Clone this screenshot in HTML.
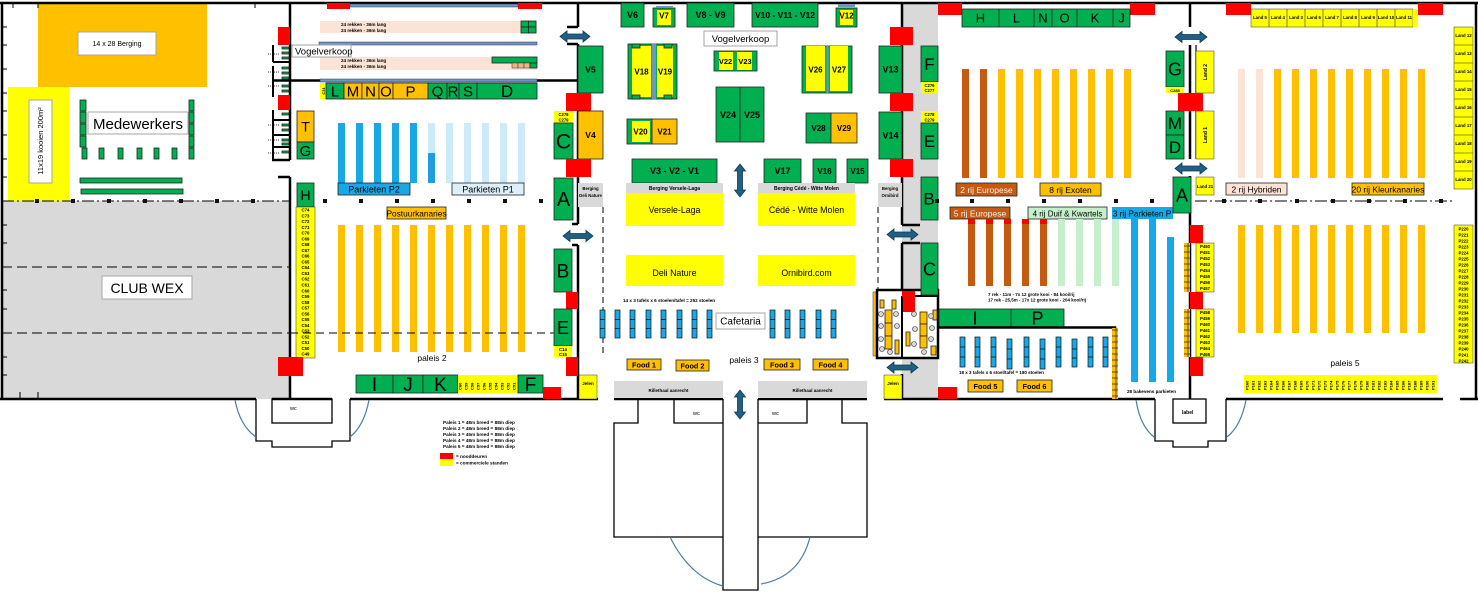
<!DOCTYPE html>
<html><head><meta charset="utf-8">
<style>
html,body{margin:0;padding:0;background:#fff;}
svg{display:block}
text{font-family:"Liberation Sans",Arial,sans-serif;fill:#000}
.g{fill:#00b050;stroke:#222;stroke-width:.8}
.o{fill:#ffc000;stroke:#222;stroke-width:.8}
.yb{fill:#ffff00;stroke:#333;stroke-width:.5}
.r{fill:#ff0000}
.gr{fill:#d9d9d9}
.w{stroke:#000;stroke-width:2.5;fill:none}
.wt{stroke:#000;stroke-width:1.3;fill:none}
.ar{fill:#215f83;stroke:#0d3b57;stroke-width:.8}
.lbl{fill:#fff;stroke:#a6a6a6;stroke-width:1}
.bo{fill:#ffc000}
.bb{fill:#18a8e6}
.lb{fill:#cdeaf8}
.br{fill:#c55a11}
.lg{fill:#c6efce}
.pk{fill:#fbe3d6}
.m{text-anchor:middle}
.b{font-weight:bold}
.tb{fill:#18a8e6;stroke:#111;stroke-width:.7}
.arc{fill:none;stroke:#4a7fa0;stroke-width:1.2}
</style></head><body>
<svg width="1478" height="592" viewBox="0 0 1478 592" xmlns="http://www.w3.org/2000/svg">
<defs>
<pattern id="comb" width="6" height="6" patternUnits="userSpaceOnUse"><rect width="6" height="6" fill="#ffc000" stroke="#333" stroke-width=".8"/></pattern>
</defs>

<!-- backgrounds -->
<rect class="gr" x="2" y="201" width="288" height="198"/>
<rect class="gr" x="902" y="3" width="36" height="396"/>

<!-- ===== LEFT AREA ===== -->
<rect x="38" y="3" width="169" height="84" fill="#ffc000"/>
<rect class="lbl" x="78" y="32" width="78" height="23"/>
<text x="117" y="46" font-size="7" class="m">14 x 28 Berging</text>
<rect x="8" y="87" width="61" height="114" fill="#ffff00"/>
<rect class="lbl" x="29" y="100" width="23" height="83"/>
<text transform="translate(43,141) rotate(-90)" font-size="7.5" class="m">11x19 kooien 200m²</text>
<rect class="lbl" x="88" y="112" width="100" height="22"/>
<text x="138" y="129" font-size="15" class="m">Medewerkers</text>
<g class="g">
<rect x="80" y="100" width="6" height="11"/><rect x="80" y="112" width="6" height="11"/><rect x="80" y="124" width="6" height="11"/><rect x="80" y="136" width="6" height="11"/>
<rect x="189" y="100" width="5" height="11"/><rect x="189" y="112" width="5" height="11"/><rect x="189" y="124" width="5" height="11"/><rect x="189" y="136" width="5" height="11"/><rect x="189" y="148" width="5" height="11"/>
<rect x="82" y="148" width="5" height="11"/><rect x="99" y="148" width="5" height="11"/><rect x="118" y="148" width="5" height="11"/><rect x="137" y="148" width="5" height="11"/><rect x="154" y="148" width="5" height="11"/><rect x="172" y="148" width="5" height="11"/>
<rect x="80" y="178" width="102" height="5"/><rect x="81" y="189" width="102" height="5"/>
</g>
<path d="M2,201H290" stroke="#000" stroke-width="1" stroke-dasharray="12,3,2,3"/>
<path d="M2,267H290M2,333H290" stroke="#000" stroke-width="1" stroke-dasharray="10,5"/>
<g fill="#111">
<rect x="35" y="199" width="4" height="4"/><rect x="71" y="199" width="4" height="4"/><rect x="107" y="199" width="4" height="4"/><rect x="143" y="199" width="4" height="4"/><rect x="179" y="199" width="4" height="4"/><rect x="215" y="199" width="4" height="4"/><rect x="251" y="199" width="4" height="4"/>
</g>
<rect class="lbl" x="102" y="276" width="90" height="23"/>
<text x="147" y="293" font-size="14" class="m">CLUB WEX</text>
<path d="M2,27H7M2,45H7M2,69H7M2,93H7M2,111H7M2,135H7M2,159H7M2,177H7M2,225H7M2,243H7M2,290H7M2,309H7M2,357H7M2,375H7M13,3V8M38,3V8M255,3V8M20,392V399M38,392V399" stroke="#000" stroke-width="1"/>

<!-- ===== WALLS ===== -->
<path class="w" d="M0,3H1478"/>
<path class="w" d="M2,3V399"/>
<path class="w" d="M1476,3V399"/>
<path class="w" d="M0,399H256M272,399H332M350,399H598M614,399H723M758,399H867M884,399H1155M1226,399H1443M1460,399H1478"/>
<path class="w" d="M290,3V160M272,160H290M278,177H290M290,177V399"/>
<path class="w" d="M272,80.5H578"/>
<path class="w" d="M578,3V27M567,27H578M567,44H578M578,44V224M572,224H578M572,245H578M578,245V399"/>
<path class="w" d="M902,3V225M902,225H920M902,243H920M902,243V290M902,374V399"/>
<path class="w" d="M1190,3V27M1190,45V159M1190,176V399"/>
<path d="M1196,45V159" stroke="#000" stroke-width="1.2"/>
<!-- comb structure -->
<path d="M273,45V62M273,66V97M273,62H290M273,110V160M273,120H290M273,135H290M273,147H290" stroke="#000" stroke-width="2"/>
<path d="M268,54H280M268,72H280M268,86H280M268,125H280M268,140H280M268,153H280" stroke="#000" stroke-width=".8" stroke-dasharray="1,1"/>
<g class="g">
<rect x="282" y="47" width="7" height="2"/><rect x="282" y="52" width="7" height="2"/><rect x="282" y="57" width="7" height="2"/><rect x="282" y="67" width="7" height="2"/><rect x="282" y="72" width="7" height="2"/><rect x="282" y="77" width="7" height="2"/><rect x="282" y="85" width="7" height="2"/><rect x="282" y="90" width="7" height="2"/>
<rect x="282" y="113" width="7" height="2"/><rect x="282" y="124" width="7" height="2"/><rect x="282" y="129" width="7" height="2"/><rect x="282" y="139" width="7" height="2"/><rect x="282" y="143" width="7" height="2"/><rect x="282" y="151" width="7" height="2"/>
</g>

<!-- ===== PALAIS 2 ===== -->
<rect class="r" x="327" y="3" width="23" height="6"/><rect class="r" x="518" y="3" width="24" height="6"/>
<rect x="350" y="4" width="168" height="3" fill="#6f95c6" stroke="#334" stroke-width=".5"/>
<rect class="pk" x="320" y="21" width="217" height="12"/>
<text x="341" y="26" font-size="4.6" class="b">24 rekken - 36m lang</text>
<text x="341" y="32" font-size="4.6" class="b">24 rekken - 36m lang</text>
<g class="g"><rect x="521" y="21" width="7.5" height="6"/><rect x="528.5" y="21" width="7.5" height="6"/><rect x="521" y="27" width="7.5" height="6"/><rect x="528.5" y="27" width="7.5" height="6"/></g>
<rect x="319" y="42" width="218" height="3" fill="#6f95c6" stroke="#334" stroke-width=".5"/>
<rect class="pk" x="320" y="57" width="217" height="13"/>
<text x="341" y="62" font-size="4.6" class="b">24 rekken - 36m lang</text>
<text x="341" y="68" font-size="4.6" class="b">24 rekken - 36m lang</text>
<rect class="g" x="492" y="57" width="45" height="6"/>
<rect x="512" y="63" width="6" height="5" fill="#f4b183" stroke="#333" stroke-width=".5"/><rect x="518" y="63" width="6" height="5" fill="#f4b183" stroke="#333" stroke-width=".5"/><rect x="524" y="63" width="6" height="5" fill="#f4b183" stroke="#333" stroke-width=".5"/><rect class="g" x="530" y="63" width="7" height="5"/>
<rect class="lbl" x="292" y="45" width="59" height="12"/>
<text x="295" y="54.5" font-size="9.5">Vogelverkoop</text>
<rect x="320" y="79" width="217" height="3" fill="#6f95c6" stroke="#334" stroke-width=".5"/>
<rect x="320" y="83" width="6" height="16" fill="#ffff00"/>
<text transform="translate(325,91) rotate(-90)" font-size="4" class="m b">C31</text>
<rect class="g" x="326" y="83" width="18" height="16"/><rect class="o" x="344" y="83" width="18" height="16"/><rect class="o" x="362" y="83" width="17" height="16"/><rect class="o" x="379" y="83" width="14" height="16"/><rect class="o" x="393" y="83" width="35" height="16"/><rect class="g" x="428" y="83" width="19" height="16"/><rect class="g" x="447" y="83" width="12" height="16"/><rect class="g" x="459" y="83" width="18" height="16"/><rect class="g" x="477" y="83" width="60" height="16"/>
<g font-size="15" class="m"><text x="335" y="96.5">L</text><text x="353" y="96.5">M</text><text x="370.5" y="96.5">N</text><text x="386" y="96.5">O</text><text x="410.5" y="96.5">P</text><text x="437.5" y="96.5">Q</text><text x="453" y="96.5">R</text><text x="468" y="96.5">S</text></g>
<text x="507" y="97" font-size="17" class="m">D</text>

<rect class="o" x="297" y="111" width="17" height="31"/><rect class="g" x="297" y="142" width="17" height="17"/>
<text x="305.5" y="131.5" font-size="14" class="m">T</text><text x="305.5" y="155.9" font-size="15" class="m">G</text>
<rect class="g" x="297" y="183" width="17" height="24"/><text x="305.5" y="200" font-size="14" class="m">H</text>
<rect class="yb" x="296" y="207" width="19" height="151"/>
<text font-size="4.3" class="m b"><tspan x="305.5" y="211.5">C74</tspan><tspan x="305.5" dy="5.77">C73</tspan><tspan x="305.5" dy="5.77">C72</tspan><tspan x="305.5" dy="5.77">C71</tspan><tspan x="305.5" dy="5.77">C70</tspan><tspan x="305.5" dy="5.77">C69</tspan><tspan x="305.5" dy="5.77">C68</tspan><tspan x="305.5" dy="5.77">C67</tspan><tspan x="305.5" dy="5.77">C66</tspan><tspan x="305.5" dy="5.77">C65</tspan><tspan x="305.5" dy="5.77">C64</tspan><tspan x="305.5" dy="5.77">C63</tspan><tspan x="305.5" dy="5.77">C62</tspan><tspan x="305.5" dy="5.77">C61</tspan><tspan x="305.5" dy="5.77">C60</tspan><tspan x="305.5" dy="5.77">C59</tspan><tspan x="305.5" dy="5.77">C58</tspan><tspan x="305.5" dy="5.77">C57</tspan><tspan x="305.5" dy="5.77">C56</tspan><tspan x="305.5" dy="5.77">C55</tspan><tspan x="305.5" dy="5.77">C54</tspan><tspan x="305.5" dy="5.77">C53</tspan><tspan x="305.5" dy="5.77">C52</tspan><tspan x="305.5" dy="5.77">C51</tspan><tspan x="305.5" dy="5.77">C50</tspan><tspan x="305.5" dy="5.77">C49</tspan></text>
<rect class="r" x="278" y="357" width="25" height="19"/>
<rect class="r" x="278" y="27" width="12" height="18"/><rect class="r" x="278" y="95" width="12" height="15"/>

<!-- parkieten bars -->
<g class="bb"><rect x="338" y="123" width="7" height="60"/><rect x="356" y="123" width="7" height="60"/><rect x="374" y="123" width="7" height="60"/><rect x="392" y="123" width="7" height="60"/><rect x="410" y="123" width="7" height="60"/></g>
<g class="lb"><rect x="428" y="123" width="7" height="30"/><rect x="446" y="123" width="7" height="60"/><rect x="464" y="123" width="7" height="60"/><rect x="482" y="123" width="7" height="60"/><rect x="500" y="123" width="7" height="60"/><rect x="518" y="123" width="7" height="60"/></g>
<rect x="428" y="153" width="7" height="30" fill="#1e9ee0"/>
<rect x="338" y="183" width="72" height="12" fill="#18a8e6" stroke="#222" stroke-width=".8"/>
<text x="374" y="192.5" font-size="9" class="m">Parkieten P2</text>
<rect x="452" y="183" width="72" height="12" fill="#ddf0fa" stroke="#222" stroke-width=".8"/>
<text x="488" y="192.5" font-size="9" class="m">Parkieten P1</text>
<g fill="#111"><rect x="323" y="199" width="4" height="4"/><rect x="359" y="199" width="4" height="4"/><rect x="395" y="199" width="4" height="4"/><rect x="431" y="199" width="4" height="4"/><rect x="467" y="199" width="4" height="4"/><rect x="503" y="199" width="4" height="4"/><rect x="539" y="199" width="4" height="4"/></g>
<rect class="o" x="387" y="207" width="59" height="12"/>
<text x="416.5" y="216.3" font-size="8.3" class="m">Postuurkanaries</text>
<g class="bo"><rect x="338" y="225" width="7" height="127"/><rect x="356" y="225" width="7" height="127"/><rect x="374" y="225" width="7" height="127"/><rect x="392" y="225" width="7" height="127"/><rect x="410" y="225" width="7" height="127"/><rect x="428" y="225" width="7" height="127"/><rect x="446" y="225" width="7" height="127"/><rect x="464" y="225" width="7" height="127"/><rect x="482" y="225" width="7" height="127"/><rect x="500" y="225" width="7" height="127"/><rect x="518" y="225" width="7" height="127"/></g>
<path d="M290,333H555" stroke="#000" stroke-width="1" stroke-dasharray="8,5"/>
<text x="432" y="361" font-size="8.5" class="m">paleis 2</text>
<rect class="g" x="356" y="375" width="37" height="18"/><rect class="g" x="393" y="375" width="30" height="18"/><rect class="g" x="423" y="375" width="35" height="18"/>
<rect x="458" y="375" width="60" height="18" fill="#ffff00"/>
<g transform="translate(458,392) rotate(-90)" font-size="4" class="b"><text><tspan x="2" y="3.5">C60</tspan><tspan x="2" y="9.5">C59</tspan><tspan x="2" y="15.5">C58</tspan><tspan x="2" y="21.5">C57</tspan><tspan x="2" y="27.5">C56</tspan><tspan x="2" y="33.5">C55</tspan><tspan x="2" y="39.5">C54</tspan><tspan x="2" y="45.5">C53</tspan><tspan x="2" y="51.5">C52</tspan><tspan x="2" y="57.5">C51</tspan></text></g>
<rect class="g" x="518" y="375" width="25" height="18"/>
<g font-size="19" class="m"><text x="374.5" y="390.8">I</text><text x="408" y="390.8">J</text><text x="440.5" y="390.8">K</text><text x="530.5" y="390.8">F</text></g>
<rect class="r" x="543" y="387" width="18" height="12"/>
<rect class="g" x="554" y="249" width="18" height="43"/><text x="563" y="277.3" font-size="19" class="m">B</text>
<rect class="r" x="566" y="292" width="12" height="17"/>
<rect class="g" x="554" y="309" width="18" height="37"/><text x="563" y="334" font-size="18" class="m">E</text>
<rect x="554" y="346" width="18" height="11" fill="#ffff00"/>
<text x="563" y="351" font-size="4.3" class="m b">C14</text><text x="563" y="356" font-size="4.3" class="m b">C15</text>
<rect class="r" x="566" y="357" width="12" height="19"/>
<rect class="yb" x="579" y="375" width="18" height="24"/><text x="588" y="385" font-size="4.5" class="m b">Jelen</text>
<rect class="g" x="554" y="178" width="19" height="42"/><text x="563.5" y="206.2" font-size="20" class="m">A</text>
<rect class="g" x="578" y="46" width="25" height="47"/><text x="590.5" y="72.5" font-size="8.5" class="m b">V5</text>
<rect class="r" x="566" y="93" width="25" height="18"/>
<rect x="554" y="111" width="19" height="12" fill="#ffff00"/>
<text x="563.5" y="116" font-size="4.2" class="m b">C278</text><text x="563.5" y="121.5" font-size="4.2" class="m b">C279</text>
<rect class="g" x="554" y="123" width="19" height="36"/><text x="563.5" y="148.5" font-size="21" class="m">C</text>
<rect class="o" x="578" y="111" width="25" height="48"/><text x="590.5" y="138" font-size="8.5" class="m b">V4</text>
<rect class="r" x="566" y="159" width="25" height="18"/>
<rect class="gr" x="578" y="183" width="25" height="24"/>
<text x="590.5" y="190" font-size="4.3" class="m b">Berging</text><text x="590.5" y="197" font-size="4.3" class="m b">Deli Nature</text>

<!-- ===== PALAIS 3 ===== -->
<rect class="g" x="621" y="3" width="23" height="24"/><text x="632.5" y="18.2" font-size="9" class="m b">V6</text>
<rect class="g" x="653" y="8" width="22" height="19"/><rect x="657" y="10" width="14" height="15" fill="#ffff00"/><rect x="656" y="6" width="17" height="2" fill="#6f95c6"/><text x="664" y="18.5" font-size="8" class="m b">V7</text>
<rect class="g" x="687" y="3" width="47" height="24"/><text x="710.5" y="18.2" font-size="9" class="m b">V8 - V9</text>
<rect class="g" x="752" y="3" width="66" height="24"/><text x="785" y="18.2" font-size="8.5" class="m b">V10 - V11 - V12</text>
<rect class="g" x="836" y="8" width="21" height="19"/><rect x="840" y="10" width="13" height="15" fill="#ffff00"/><rect x="838" y="4" width="17" height="3" fill="#6f95c6"/><text x="846.5" y="18.5" font-size="8" class="m b">V12</text>
<rect class="lbl" x="704" y="31" width="73" height="15"/><text x="740.5" y="42" font-size="9.5" class="m">Vogelverkoop</text>
<!-- V18 V19 -->
<rect class="g" x="628" y="44" width="49" height="55"/>
<rect x="632" y="46" width="19" height="51" fill="#ffff00"/><rect x="657" y="46" width="16" height="51" fill="#ffff00"/>
<rect x="652" y="44" width="4" height="55" fill="#6f95c6"/>
<g class="g"><rect x="632" y="44" width="8" height="4"/><rect x="632" y="95" width="8" height="4"/><rect x="664" y="44" width="8" height="4"/><rect x="664" y="95" width="8" height="4"/></g>
<text x="641.5" y="74.5" font-size="8" class="m b">V18</text><text x="665" y="74.5" font-size="8" class="m b">V19</text>
<!-- V22 V23 -->
<rect class="g" x="714" y="51" width="43" height="20"/>
<rect x="719" y="52" width="14" height="18" fill="#ffff00"/><rect x="737" y="52" width="15" height="18" fill="#ffff00"/>
<text x="725.5" y="64" font-size="7.5" class="m b">V22</text><text x="745" y="64" font-size="7.5" class="m b">V23</text>
<!-- V26 V27 -->
<rect class="g" x="802" y="46" width="50" height="47"/>
<rect x="806" y="46" width="19" height="45" fill="#ffff00"/><rect x="830" y="46" width="18" height="45" fill="#ffff00"/>
<path d="M827.5,46V93" stroke="#6f95c6" stroke-width="2"/>
<text x="815.5" y="72.5" font-size="8" class="m b">V26</text><text x="839" y="72.5" font-size="8" class="m b">V27</text>
<rect class="g" x="716" y="87" width="48" height="55"/><path d="M740,87V142" stroke="#222" stroke-width=".8"/>
<text x="728" y="118" font-size="9" class="m b">V24</text><text x="752" y="118" font-size="9" class="m b">V25</text>
<rect class="g" x="627" y="119" width="25" height="25"/><rect x="632" y="121" width="18" height="21" fill="#ffff00"/>
<rect class="o" x="652" y="119" width="25" height="25"/>
<text x="640.5" y="134.5" font-size="8" class="m b">V20</text><text x="664.5" y="134.5" font-size="8" class="m b">V21</text>
<rect class="g" x="806" y="113" width="25" height="30"/><rect class="o" x="831" y="113" width="26" height="30"/>
<text x="818.5" y="131" font-size="8" class="m b">V28</text><text x="844" y="131" font-size="8" class="m b">V29</text>
<rect class="g" x="879" y="46" width="23" height="47"/><text x="890.5" y="72.7" font-size="9" class="m b">V13</text>
<rect class="g" x="879" y="112" width="23" height="47"/><text x="890.5" y="138.7" font-size="9" class="m b">V14</text>
<rect class="r" x="890" y="27" width="23" height="18"/><rect class="r" x="890" y="93" width="23" height="18"/><rect class="r" x="890" y="159" width="23" height="18"/>
<rect class="g" x="632" y="159" width="85" height="24"/><text x="674.5" y="174.2" font-size="9" class="m b">V3 - V2 - V1</text>
<rect class="g" x="764" y="159" width="37" height="24"/><text x="782.5" y="174.2" font-size="9" class="m b">V17</text>
<rect class="g" x="813" y="159" width="23" height="24"/><text x="824.5" y="174.2" font-size="8" class="m b">V16</text>
<rect class="g" x="847" y="159" width="21" height="24"/><text x="857.5" y="174.2" font-size="8" class="m b">V15</text>
<rect class="gr" x="626" y="183" width="97" height="10"/><text x="674.5" y="190" font-size="5" class="m b">Berging Versele-Laga</text>
<rect x="626" y="193" width="97" height="33" fill="#ffff00"/><text x="674.5" y="213" font-size="8.8" class="m">Versele-Laga</text>
<rect class="gr" x="758" y="183" width="97" height="10"/><text x="806.5" y="190" font-size="5" class="m b">Berging Cédé - Witte Molen</text>
<rect x="758" y="193" width="97" height="33" fill="#ffff00"/><text x="806.5" y="213" font-size="8.8" class="m">Cédé - Witte Molen</text>
<rect x="626" y="255" width="97" height="31" fill="#ffff00"/><text x="674.5" y="276" font-size="8.8" class="m">Deli Nature</text>
<rect x="758" y="255" width="97" height="31" fill="#ffff00"/><text x="806.5" y="276" font-size="8.8" class="m">Ornibird.com</text>
<rect class="gr" x="878" y="183" width="24" height="24"/>
<text x="890" y="190" font-size="4.3" class="m b">Berging</text><text x="890" y="197" font-size="4.3" class="m b">Ornibird</text>
<path d="M603,207V355M878,207V355" stroke="#000" stroke-width="1" stroke-dasharray="6,4"/>
<text x="623" y="302" font-size="4.6" class="b">14 x 3 tafels x 6 stoelen/tafel = 252 stoelen</text>
<g class="tb">
<rect x="600" y="310" width="5" height="28"/><rect x="615" y="310" width="5" height="28"/><rect x="630" y="310" width="5" height="28"/><rect x="646" y="310" width="5" height="28"/><rect x="661" y="310" width="5" height="28"/><rect x="677" y="310" width="5" height="28"/><rect x="692" y="310" width="5" height="28"/><rect x="707" y="310" width="5" height="28"/>
<rect x="770" y="310" width="5" height="28"/><rect x="785" y="310" width="5" height="28"/><rect x="800" y="310" width="5" height="28"/><rect x="816" y="310" width="5" height="28"/><rect x="831" y="310" width="5" height="28"/>
</g>
<path d="M600,319.5h5M615,319.5h5M630,319.5h5M646,319.5h5M661,319.5h5M677,319.5h5M692,319.5h5M707,319.5h5M770,319.5h5M785,319.5h5M800,319.5h5M816,319.5h5M831,319.5h5M600,328.5h5M615,328.5h5M630,328.5h5M646,328.5h5M661,328.5h5M677,328.5h5M692,328.5h5M707,328.5h5M770,328.5h5M785,328.5h5M800,328.5h5M816,328.5h5M831,328.5h5" stroke="#111" stroke-width=".7"/>
<rect class="lbl" x="716" y="313" width="49" height="16"/><text x="740.5" y="324.5" font-size="10" class="m">Cafetaria</text>
<text x="744" y="363" font-size="8.5" class="m">paleis 3</text>
<rect class="o" x="627" y="359" width="34" height="11"/><text x="644" y="367.5" font-size="7.3" class="m b">Food 1</text>
<rect class="o" x="676" y="360" width="33" height="11"/><text x="692.5" y="368.5" font-size="7.3" class="m b">Food 2</text>
<rect class="o" x="764" y="359" width="36" height="11"/><text x="782" y="367.5" font-size="7.3" class="m b">Food 3</text>
<rect class="o" x="813" y="359" width="35" height="11"/><text x="830.5" y="367.5" font-size="7.3" class="m b">Food 4</text>
<rect class="gr" x="614" y="381" width="109" height="17"/><text x="668.5" y="392" font-size="4.5" class="m b">Rillethaal aanrecht</text>
<rect class="gr" x="758" y="381" width="109" height="17"/><text x="812.5" y="392" font-size="4.5" class="m b">Rillethaal aanrecht</text>
<rect class="yb" x="884" y="375" width="18" height="24"/><text x="893" y="385" font-size="4.5" class="m b">Jelen</text>
<!-- cafeteria room -->
<rect x="873" y="292" width="4" height="64" fill="#ffc000" stroke="#333" stroke-width=".5"/>
<rect x="877" y="290" width="61" height="68" fill="#fff" stroke="#000" stroke-width="2.5"/>
<path d="M902,296V358M902,296H938" stroke="#000" stroke-width="2"/>
<rect class="r" x="903" y="297" width="12" height="15"/>
<g class="o"><rect x="885" y="310" width="7" height="13"/><rect x="885" y="323" width="7" height="13"/><rect x="885" y="336" width="7" height="13"/><rect x="892" y="300" width="4" height="9"/><rect x="895" y="340" width="4" height="14"/><rect x="920" y="312" width="7" height="12"/><rect x="920" y="324" width="7" height="12"/><rect x="920" y="336" width="7" height="12"/><rect x="906" y="332" width="4" height="14"/><rect x="931" y="346" width="5" height="9"/><rect x="933" y="310" width="4" height="10"/><rect x="880" y="300" width="4" height="8"/></g>
<g fill="#d8d8d8" stroke="#333" stroke-width=".6"><circle cx="881" cy="314" r="2.5"/><circle cx="881" cy="326" r="2.5"/><circle cx="881" cy="339" r="2.5"/><circle cx="882" cy="349" r="2.5"/><circle cx="896" cy="314" r="2.5"/><circle cx="897" cy="326" r="2.5"/><circle cx="890" cy="352" r="2.5"/><circle cx="914" cy="314" r="2.5"/><circle cx="915" cy="329" r="2.5"/><circle cx="914" cy="344" r="2.5"/><circle cx="931" cy="316" r="2.5"/><circle cx="932" cy="328" r="2.5"/><circle cx="931" cy="339" r="2.5"/><circle cx="924" cy="352" r="2.5"/></g>

<!-- ===== PALAIS 4 ===== -->
<rect class="r" x="938" y="3" width="24" height="12"/><rect class="r" x="1130" y="3" width="25" height="12"/>
<rect class="g" x="962" y="9" width="168" height="18"/>
<path d="M999,9V27M1034,9V27M1052,9V27M1077,9V27M1113,9V27" stroke="#222" stroke-width=".8"/>
<g font-size="13" class="m"><text x="980.5" y="22.7">H</text><text x="1016.5" y="22.7">L</text><text x="1043" y="22.7">N</text><text x="1064.5" y="22.7">O</text><text x="1095" y="22.7">K</text><text x="1121.5" y="22.7">J</text></g>
<rect class="g" x="921" y="46" width="17" height="36"/><text x="929.5" y="70" font-size="17" class="m">F</text>
<rect x="921" y="82" width="17" height="11" fill="#ffff00"/><text x="929.5" y="87" font-size="4.2" class="m b">C276</text><text x="929.5" y="92" font-size="4.2" class="m b">C277</text>
<rect x="921" y="111" width="17" height="12" fill="#ffff00"/><text x="929.5" y="116" font-size="4.2" class="m b">C278</text><text x="929.5" y="121.5" font-size="4.2" class="m b">C279</text>
<rect class="g" x="921" y="123" width="17" height="36"/><text x="929.5" y="147" font-size="17" class="m">E</text>
<rect class="g" x="921" y="177" width="17" height="43"/><text x="929" y="204.6" font-size="17" class="m">B</text>
<rect class="g" x="921" y="243" width="17" height="52"/><text x="929.5" y="275.5" font-size="18" class="m">C</text>
<rect class="r" x="902" y="291" width="13" height="6"/>
<g class="br"><rect x="962" y="69" width="7" height="109"/><rect x="980" y="69" width="7" height="109"/></g>
<g class="bo"><rect x="998" y="69" width="7" height="109"/><rect x="1016" y="69" width="7" height="109"/><rect x="1034" y="69" width="7" height="109"/><rect x="1052" y="69" width="7" height="109"/><rect x="1070" y="69" width="7" height="109"/><rect x="1088" y="69" width="7" height="109"/><rect x="1106" y="69" width="7" height="109"/><rect x="1124" y="69" width="7" height="109"/></g>
<rect x="956" y="183" width="61" height="13" fill="#c55a11" stroke="#222" stroke-width=".8"/><text x="986.5" y="192.8" font-size="8.5" class="m" style="fill:#f4f4f4">2 rij Europese</text>
<rect class="o" x="1040" y="183" width="61" height="13"/><text x="1070.5" y="192.8" font-size="8.5" class="m">8 rij Exoten</text>
<g fill="#111"><rect x="935" y="199" width="4" height="4"/><rect x="970" y="199" width="4" height="4"/><rect x="1006" y="199" width="4" height="4"/><rect x="1042" y="199" width="4" height="4"/><rect x="1078" y="199" width="4" height="4"/><rect x="1114" y="199" width="4" height="4"/><rect x="1150" y="199" width="4" height="4"/></g>
<rect x="950" y="207" width="60" height="12" fill="#c55a11" stroke="#222" stroke-width=".8"/><text x="980" y="216.3" font-size="8.5" class="m" style="fill:#f4f4f4">5 rij Europese</text>
<rect x="1028" y="207" width="79" height="12" fill="#c6efce" stroke="#222" stroke-width=".8"/><text x="1067.5" y="216.3" font-size="8" class="m">4 rij Duif &amp; Kwartels</text>
<rect x="1112" y="207" width="61" height="12" fill="#18a8e6"/><text x="1142" y="216.3" font-size="8.3" class="m">3 rij Parkieten P</text>
<g class="br"><rect x="968" y="219" width="7" height="67"/><rect x="986" y="219" width="7" height="67"/><rect x="1004" y="219" width="7" height="67"/><rect x="1022" y="219" width="7" height="67"/><rect x="1040" y="219" width="7" height="67"/></g>
<g class="r"><rect x="968" y="219" width="7" height="5"/><rect x="986" y="219" width="7" height="5"/><rect x="1004" y="219" width="7" height="5"/><rect x="1022" y="219" width="7" height="5"/><rect x="1040" y="219" width="7" height="5"/></g>
<g class="lg"><rect x="1058" y="219" width="7" height="67"/><rect x="1076" y="219" width="7" height="67"/><rect x="1094" y="219" width="7" height="67"/><rect x="1112" y="219" width="7" height="67"/></g>
<g class="bb"><rect x="1131" y="219" width="7" height="163"/><rect x="1149" y="219" width="7" height="163"/><rect x="1167" y="237" width="7" height="145"/></g>
<text x="988" y="296" font-size="4.5" class="b">7 rek - 11m - 7x 12 grote kooi - 84 kooi/rij</text>
<text x="988" y="301.5" font-size="4.5" class="b">17 rek - 25,5m - 17x 12 grote kooi - 204 kooi/rij</text>
<rect class="g" x="939" y="309" width="125" height="18"/><path d="M1011,309V327" stroke="#222" stroke-width=".8"/>
<text x="975" y="324.4" font-size="18" class="m">I</text><text x="1037.5" y="324.4" font-size="18" class="m">P</text>
<path class="w" d="M938,327.5H1115V399"/>
<rect x="1112" y="328" width="6" height="71" fill="url(#comb)"/>
<g class="tb"><rect x="960" y="337" width="5" height="30"/><rect x="975" y="337" width="5" height="30"/><rect x="991" y="337" width="5" height="30"/><rect x="1007" y="339" width="5" height="30"/><rect x="1024" y="337" width="5" height="30"/><rect x="1040" y="339" width="5" height="30"/><rect x="1056" y="337" width="5" height="30"/><rect x="1072" y="339" width="5" height="28"/><rect x="1088" y="337" width="5" height="30"/><rect x="1103" y="337" width="5" height="30"/></g>
<path d="M960,347h5M975,347h5M991,347h5M1007,349h5M1024,347h5M1040,349h5M1056,347h5M1072,349h5M1088,347h5M1103,347h5M960,357h5M975,357h5M991,357h5M1007,359h5M1024,357h5M1040,359h5M1056,357h5M1072,358h5M1088,357h5M1103,357h5" stroke="#111" stroke-width=".7"/>
<text x="959" y="374" font-size="4.5" class="b">18 x 3 tafels x 6 stoel/tafel = 180 stoelen</text>
<rect class="o" x="968" y="380" width="35" height="12"/><text x="985.5" y="388.8" font-size="7.3" class="m b">Food 5</text>
<rect class="o" x="1017" y="380" width="35" height="12"/><text x="1034.5" y="388.8" font-size="7.3" class="m b">Food 6</text>
<rect class="r" x="938" y="387" width="19" height="12"/>
<text x="1127" y="393" font-size="4.6" class="b">28 bakevens parkieten</text>
<rect class="g" x="1166" y="51" width="18" height="36"/><text x="1175" y="75.4" font-size="18" class="m">G</text>
<rect x="1166" y="87" width="18" height="6" fill="#ffff00"/><text x="1175" y="92" font-size="4" class="m b">C285</text>
<rect class="r" x="1178" y="93" width="25" height="18"/>
<rect class="g" x="1166" y="111" width="18" height="24"/><text x="1175" y="129" font-size="17" class="m">M</text>
<rect class="g" x="1166" y="135" width="18" height="24"/><text x="1175" y="153" font-size="17" class="m">D</text>
<rect class="g" x="1173" y="177" width="18" height="36"/><text x="1182" y="201.4" font-size="18" class="m">A</text>

<!-- ===== PALAIS 5 ===== -->
<rect class="r" x="1226" y="3" width="25" height="12"/><rect class="r" x="1418" y="3" width="25" height="12"/>
<rect class="yb" x="1251" y="9" width="162" height="18"/><rect x="1413" y="9" width="5" height="18" fill="#ffff00"/>
<path d="M1269,9V27M1287,9V27M1305,9V27M1323,9V27M1341,9V27M1359,9V27M1377,9V27M1395,9V27" stroke="#333" stroke-width=".6"/>
<g font-size="4.3" class="m b"><text x="1260" y="19">Land 5</text><text x="1278" y="19">Land 4</text><text x="1296" y="19">Land 3</text><text x="1314" y="19">Land 6</text><text x="1332" y="19">Land 7</text><text x="1350" y="19">Land 8</text><text x="1368" y="19">Land 9</text><text x="1386" y="19">Land 10</text><text x="1404" y="19">Land 11</text></g>
<rect class="yb" x="1454" y="27" width="19" height="162"/>
<path d="M1454,45H1473M1454,63H1473M1454,81H1473M1454,99H1473M1454,117H1473M1454,135H1473M1454,153H1473M1454,171H1473" stroke="#333" stroke-width=".6"/>
<g font-size="4.3" class="m b"><text x="1463.5" y="37">Land 12</text><text x="1463.5" y="55">Land 13</text><text x="1463.5" y="73">Land 14</text><text x="1463.5" y="91">Land 15</text><text x="1463.5" y="109">Land 16</text><text x="1463.5" y="127">Land 17</text><text x="1463.5" y="145">Land 18</text><text x="1463.5" y="163">Land 19</text><text x="1463.5" y="181">Land 20</text></g>
<rect class="yb" x="1196" y="51" width="18" height="42"/><text transform="translate(1207,72) rotate(-90)" font-size="5" class="m b">Land 2</text>
<rect class="yb" x="1196" y="111" width="18" height="48"/><text transform="translate(1207,135) rotate(-90)" font-size="5" class="m b">Land 1</text>
<rect class="yb" x="1196" y="177" width="18" height="18"/><text x="1205" y="188" font-size="4.3" class="m b">Land 21</text>
<rect class="r" x="1180" y="93" width="23" height="18"/>
<g class="pk"><rect x="1238" y="69" width="7" height="109"/><rect x="1256" y="69" width="7" height="109"/></g>
<g class="bo"><rect x="1274" y="69" width="7" height="109"/><rect x="1292" y="69" width="7" height="109"/><rect x="1310" y="69" width="7" height="109"/><rect x="1328" y="69" width="7" height="109"/><rect x="1346" y="69" width="7" height="109"/><rect x="1364" y="69" width="7" height="109"/><rect x="1382" y="69" width="7" height="109"/><rect x="1400" y="69" width="7" height="109"/><rect x="1418" y="69" width="7" height="109"/></g>
<rect x="1226" y="183" width="61" height="12" fill="#fbe3d6" stroke="#222" stroke-width=".8"/><text x="1256.5" y="192.3" font-size="8.5" class="m">2 rij Hybriden</text>
<rect class="o" x="1352" y="183" width="72" height="12"/><text x="1388" y="192.3" font-size="8.5" class="m">20 rij Kleurkanaries</text>
<path d="M1195,201H1455" stroke="#000" stroke-width="1" stroke-dasharray="12,3,2,3"/>
<g fill="#111"><rect x="1222" y="199" width="4" height="4"/><rect x="1258" y="199" width="4" height="4"/><rect x="1295" y="199" width="4" height="4"/><rect x="1331" y="199" width="4" height="4"/><rect x="1367" y="199" width="4" height="4"/><rect x="1403" y="199" width="4" height="4"/><rect x="1439" y="199" width="4" height="4"/></g>
<g class="bo"><rect x="1238" y="225" width="7" height="108"/><rect x="1256" y="225" width="7" height="108"/><rect x="1274" y="225" width="7" height="108"/><rect x="1292" y="225" width="7" height="108"/><rect x="1310" y="225" width="7" height="108"/><rect x="1328" y="225" width="7" height="108"/><rect x="1346" y="225" width="7" height="108"/><rect x="1364" y="225" width="7" height="108"/><rect x="1382" y="225" width="7" height="108"/><rect x="1400" y="225" width="7" height="108"/><rect x="1418" y="225" width="7" height="108"/></g>
<rect class="yb" x="1454" y="225" width="19" height="138"/>
<text font-size="4.3" class="m b"><tspan x="1463.5" y="230.5">P220</tspan><tspan x="1463.5" dy="6">P221</tspan><tspan x="1463.5" dy="6">P222</tspan><tspan x="1463.5" dy="6">P223</tspan><tspan x="1463.5" dy="6">P224</tspan><tspan x="1463.5" dy="6">P225</tspan><tspan x="1463.5" dy="6">P226</tspan><tspan x="1463.5" dy="6">P227</tspan><tspan x="1463.5" dy="6">P228</tspan><tspan x="1463.5" dy="6">P229</tspan><tspan x="1463.5" dy="6">P230</tspan><tspan x="1463.5" dy="6">P231</tspan><tspan x="1463.5" dy="6">P232</tspan><tspan x="1463.5" dy="6">P233</tspan><tspan x="1463.5" dy="6">P234</tspan><tspan x="1463.5" dy="6">P235</tspan><tspan x="1463.5" dy="6">P236</tspan><tspan x="1463.5" dy="6">P237</tspan><tspan x="1463.5" dy="6">P238</tspan><tspan x="1463.5" dy="6">P239</tspan><tspan x="1463.5" dy="6">P240</tspan><tspan x="1463.5" dy="6">P241</tspan><tspan x="1463.5" dy="6">P242</tspan></text>
<rect class="r" x="1190" y="225" width="13" height="18"/><rect class="r" x="1190" y="292" width="13" height="17"/><rect class="r" x="1190" y="357" width="13" height="19"/>
<rect x="1184" y="243" width="6" height="49" fill="url(#comb)"/><rect x="1184" y="309" width="6" height="48" fill="url(#comb)"/>
<rect class="yb" x="1196" y="243" width="18" height="49"/><rect class="yb" x="1196" y="309" width="18" height="48"/>
<text font-size="4.3" class="m b"><tspan x="1205" y="248">P450</tspan><tspan x="1205" dy="6">P451</tspan><tspan x="1205" dy="6">P452</tspan><tspan x="1205" dy="6">P453</tspan><tspan x="1205" dy="6">P454</tspan><tspan x="1205" dy="6">P455</tspan><tspan x="1205" dy="6">P456</tspan><tspan x="1205" dy="6">P457</tspan></text>
<text font-size="4.3" class="m b"><tspan x="1205" y="314">P458</tspan><tspan x="1205" dy="6">P459</tspan><tspan x="1205" dy="6">P460</tspan><tspan x="1205" dy="6">P461</tspan><tspan x="1205" dy="6">P462</tspan><tspan x="1205" dy="6">P463</tspan><tspan x="1205" dy="6">P464</tspan><tspan x="1205" dy="6">P465</tspan></text>
<text x="1345" y="366" font-size="8.5" class="m">paleis 5</text>
<rect x="1244" y="375" width="193" height="18" fill="#ffff00"/>
<g transform="translate(1244,392) rotate(-90)" font-size="4" class="b"><text><tspan x="2" y="4.5">P160</tspan><tspan x="2" y="10.5">P161</tspan><tspan x="2" y="16.5">P162</tspan><tspan x="2" y="22.5">P163</tspan><tspan x="2" y="28.5">P164</tspan><tspan x="2" y="34.5">P165</tspan><tspan x="2" y="40.5">P166</tspan><tspan x="2" y="46.5">P167</tspan><tspan x="2" y="52.5">P168</tspan><tspan x="2" y="58.5">P169</tspan><tspan x="2" y="64.5">P170</tspan><tspan x="2" y="70.5">P171</tspan><tspan x="2" y="76.5">P172</tspan><tspan x="2" y="82.5">P173</tspan><tspan x="2" y="88.5">P174</tspan><tspan x="2" y="94.5">P175</tspan><tspan x="2" y="100.5">P176</tspan><tspan x="2" y="106.5">P177</tspan><tspan x="2" y="112.5">P178</tspan><tspan x="2" y="118.5">P179</tspan><tspan x="2" y="124.5">P180</tspan><tspan x="2" y="130.5">P181</tspan><tspan x="2" y="136.5">P182</tspan><tspan x="2" y="142.5">P183</tspan><tspan x="2" y="148.5">P184</tspan><tspan x="2" y="154.5">P185</tspan><tspan x="2" y="160.5">P186</tspan><tspan x="2" y="166.5">P187</tspan><tspan x="2" y="172.5">P188</tspan><tspan x="2" y="178.5">P189</tspan><tspan x="2" y="184.5">P190</tspan><tspan x="2" y="190.5">P191</tspan></text></g>

<!-- ===== ARROWS ===== -->
<g class="ar">
<polygon points="560,36.5 567,31 567,34 583,34 583,31 590,36.5 583,42 583,39 567,39 567,42"/>
<polygon points="563,236 570,230.5 570,233.5 586,233.5 586,230.5 593,236 586,241.5 586,238.5 570,238.5 570,241.5"/>
<polygon points="887,234.5 894,229 894,232 911,232 911,229 918,234.5 911,240 911,237 894,237 894,240"/>
<polygon points="887,367.5 894,362 894,365 911,365 911,362 918,367.5 911,373 911,370 894,370 894,373"/>
<polygon points="1175,37 1182,31.5 1182,34.5 1200,34.5 1200,31.5 1207,37 1200,42.5 1200,39.5 1182,39.5 1182,42.5"/>
<polygon points="1175,168.5 1182,163 1182,166 1200,166 1200,163 1207,168.5 1200,174 1200,171 1182,171 1182,174"/>
<polygon points="740,164 745.5,171 742.5,171 742.5,190 745.5,190 740,197 734.5,190 737.5,190 737.5,171 734.5,171"/>
<polygon points="740,390 745.5,397 742.5,397 742.5,412 745.5,412 740,419 734.5,412 737.5,412 737.5,397 734.5,397"/>
</g>

<!-- ===== BOTTOM OUTSIDE ===== -->
<path class="wt" d="M256,399V441H272V447H332V441H350V399"/>
<rect class="wt" x="272" y="399" width="60" height="24"/>
<text x="290" y="410" font-size="5.5">wc</text>
<path class="arc" d="M235,400Q240,426 256,437"/>
<path class="arc" d="M369,400Q364,426 350,437"/>
<path class="wt" d="M723,399V590H758V399"/>
<path class="wt" d="M638,399V423H614V537H723"/>
<path class="wt" d="M674,399V423H723"/>
<path class="wt" d="M842,399V423H867V537H758"/>
<path class="wt" d="M758,423H807V399"/>
<text x="693" y="415" font-size="5.5">wc</text>
<text x="772" y="415" font-size="5.5">wc</text>
<path class="arc" d="M670,537Q690,577 723,586"/>
<path class="arc" d="M810,537Q800,577 761,584"/>
<path class="wt" d="M1155,399V441H1173V447H1208V441H1226V399"/>
<rect class="wt" x="1173" y="399" width="33" height="24"/>
<text x="1182" y="414" font-size="5" class="b">label</text>
<path class="arc" d="M1136,400Q1140,426 1154,437"/>
<path class="arc" d="M1246,400Q1241,426 1227,437"/>

<!-- legend -->
<g font-size="4.7" class="b">
<text x="443" y="424">Paleis 1 = 48m breed = 88m diep</text>
<text x="443" y="430">Paleis 2 = 48m breed = 88m diep</text>
<text x="443" y="436">Paleis 3 = 45m breed = 88m diep</text>
<text x="443" y="442">Paleis 4 = 48m breed = 88m diep</text>
<text x="443" y="448">Paleis 5 = 48m breed = 88m diep</text>
<text x="456" y="458">= nooddeuren</text>
<text x="456" y="464.5">= commerciele standen</text>
</g>
<rect class="r" x="440" y="453" width="13" height="6"/>
<rect x="440" y="459" width="13" height="7" fill="#ffff00"/>
</svg>
</body></html>
